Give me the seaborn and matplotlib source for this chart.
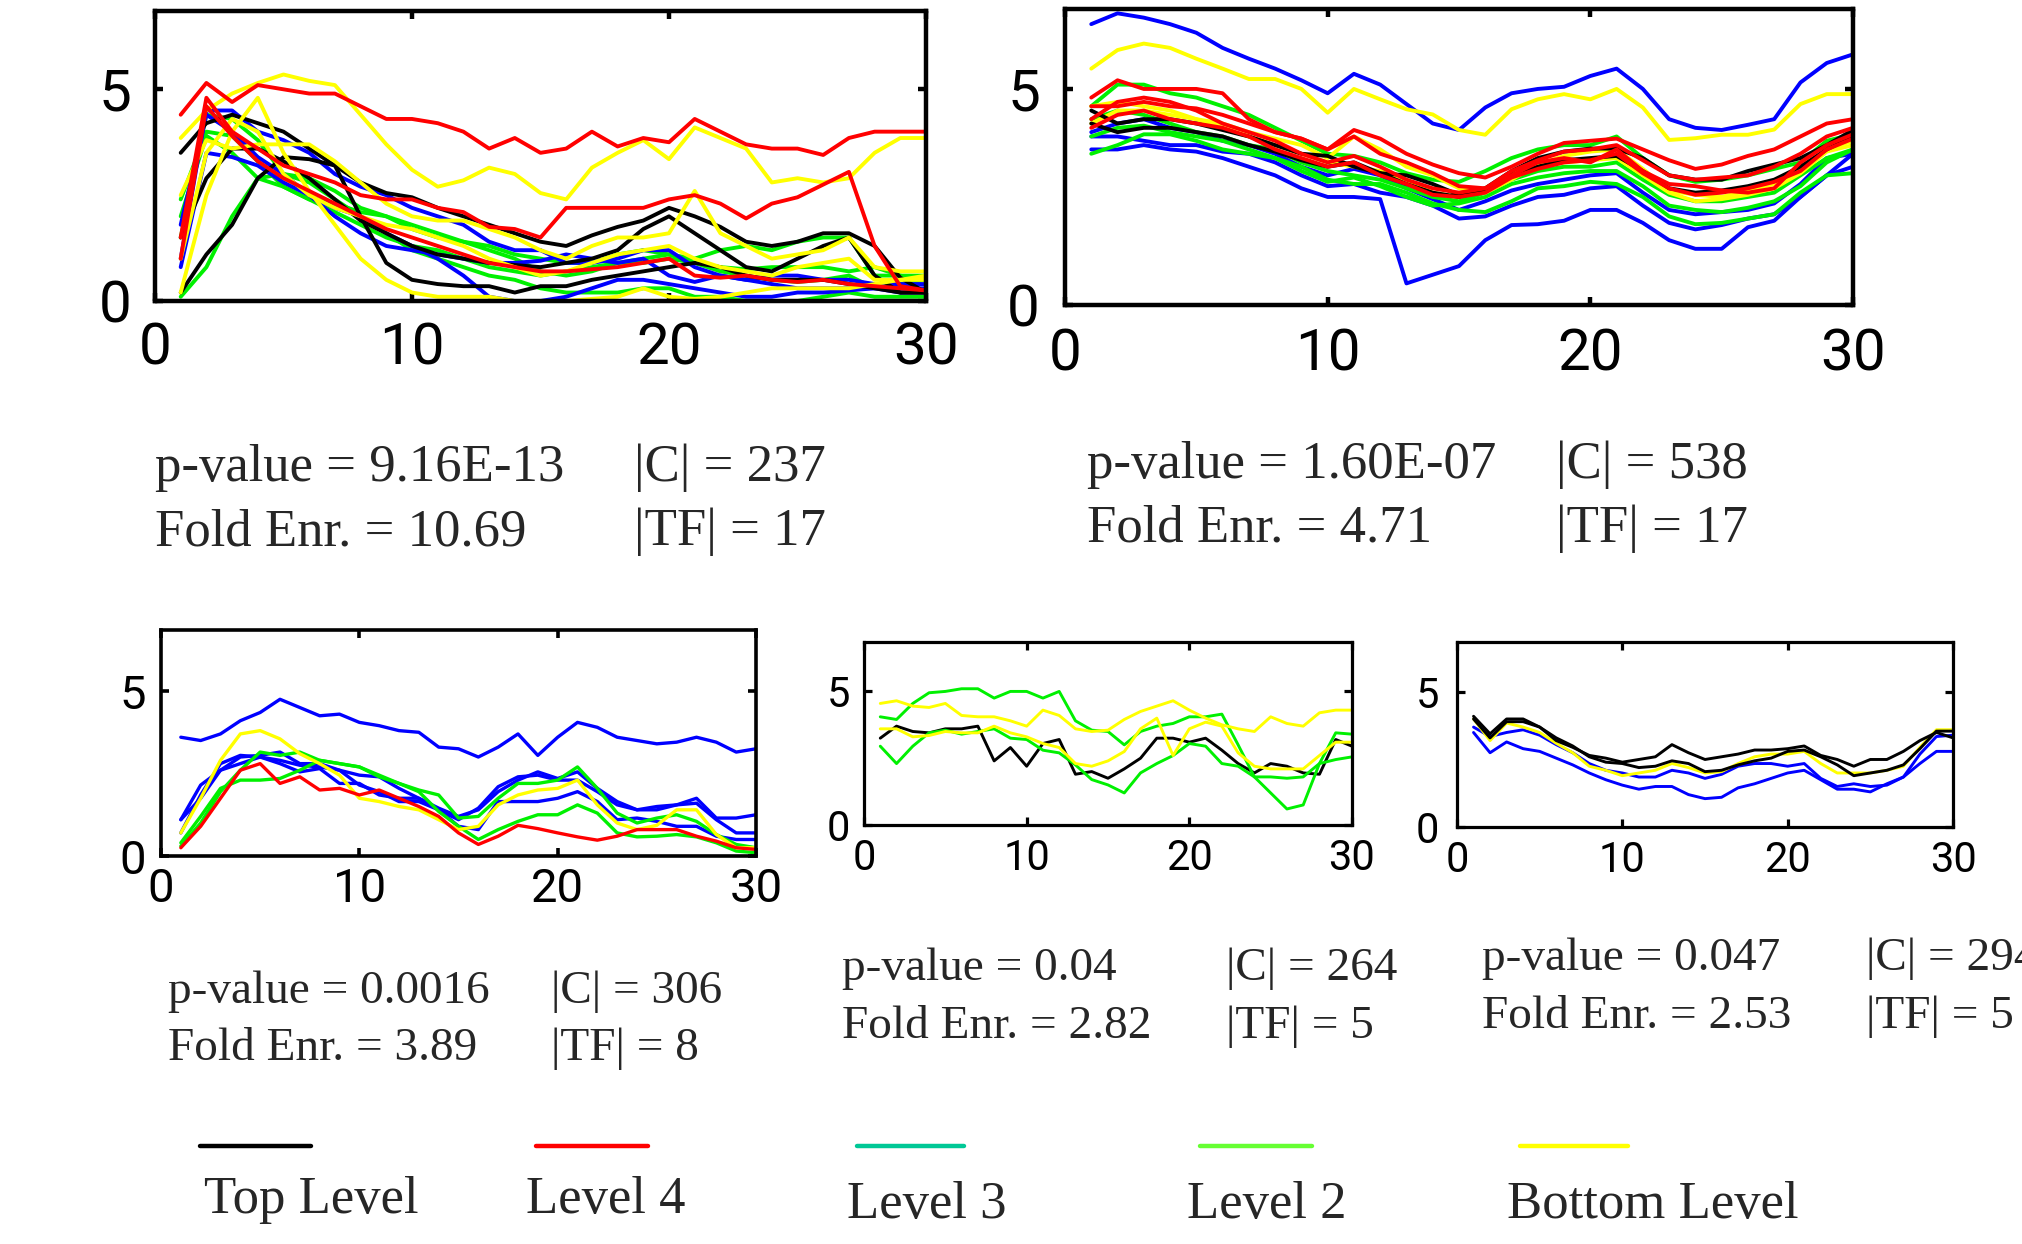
import matplotlib
matplotlib.use("Agg")
import matplotlib.pyplot as plt
import seaborn as sns
import pandas as pd
from matplotlib import font_manager
from matplotlib.lines import Line2D

# ---------------- data ----------------
T = list(range(1, 31))

# Panel 1 (p-value 9.16E-13)
p1_top_a = [3.5,4.2,4.4,4.2,4.0,3.6,3.2,2.8,2.55,2.45,2.2,2.0,1.8,1.6,1.4,1.3,1.55,1.75,1.9,2.2,2.0,1.75,1.4,1.3,1.4,1.6,1.6,1.3,0.55,0.2]
p1_top_b = [0.2,1.1,1.8,2.9,3.4,3.35,3.2,2.0,0.9,0.5,0.4,0.35,0.35,0.2,0.35,0.35,0.5,0.6,0.7,0.8,0.9,0.8,0.6,0.5,0.5,0.5,0.4,0.3,0.2,0.2]
p1_top_c = [1.5,2.9,3.6,3.6,3.3,2.9,2.4,1.9,1.6,1.3,1.1,1.0,0.9,0.85,0.8,0.9,1.0,1.2,1.7,2.0,1.6,1.2,0.8,0.7,1.0,1.3,1.5,0.6,0.2,0.2]
p1_l4_a = [4.4,5.15,4.7,5.1,5.0,4.9,4.9,4.6,4.3,4.3,4.2,4.0,3.6,3.85,3.5,3.6,4.0,3.65,3.85,3.75,4.3,4.0,3.7,3.6,3.6,3.45,3.85,4.0,4.0,4.0]
p1_l4_b = [1.5,4.8,4.0,3.6,3.2,3.0,2.8,2.5,2.4,2.4,2.2,2.1,1.75,1.7,1.5,2.2,2.2,2.2,2.2,2.4,2.5,2.3,1.95,2.3,2.45,2.75,3.05,1.3,0.35,0.25]
p1_l4_c = [1.0,4.6,3.9,3.3,2.9,2.6,2.3,2.0,1.7,1.5,1.3,1.1,0.9,0.8,0.7,0.7,0.75,0.8,0.9,1.0,0.6,0.55,0.6,0.5,0.45,0.5,0.4,0.35,0.3,0.25]
p1_l3_a = [1.0,4.5,4.5,4.0,3.8,3.5,3.0,2.7,2.5,2.2,2.0,1.8,1.4,1.2,1.2,0.9,0.9,1.0,1.2,1.2,0.8,0.6,0.5,0.4,0.3,0.3,0.3,0.3,0.2,0.2]
p1_l3_b = [0.8,3.5,3.4,3.2,2.8,2.5,2.2,2.0,1.6,1.3,1.0,0.6,0.1,0.0,0.0,0.1,0.3,0.5,0.5,0.4,0.3,0.2,0.1,0.1,0.2,0.2,0.25,0.3,0.3,0.3]
p1_l3_c = [1.8,4.4,4.0,3.4,3.0,2.5,2.0,1.6,1.3,1.2,1.1,1.0,0.9,0.9,0.95,1.1,1.0,0.9,1.0,0.6,0.45,0.6,0.5,0.6,0.6,0.5,0.5,0.4,0.4,0.4]
p1_l2_a = [1.5,4.4,4.3,3.8,3.0,2.9,2.6,2.2,2.0,1.7,1.5,1.4,1.3,1.1,1.0,0.9,0.9,1.1,1.2,1.1,1.0,1.2,1.3,1.2,1.4,1.5,1.5,0.6,0.6,0.6]
p1_l2_b = [2.0,3.9,3.5,2.9,2.7,2.4,2.1,1.8,1.5,1.3,1.2,1.0,0.8,0.7,0.6,0.7,0.8,0.9,1.0,1.1,0.9,0.7,0.6,0.5,0.45,0.5,0.6,0.3,0.4,0.5]
p1_l2_c = [0.1,0.8,2.0,2.9,3.0,2.8,2.4,2.0,1.6,1.2,1.0,0.8,0.6,0.5,0.3,0.2,0.2,0.2,0.3,0.3,0.1,0.1,0.0,0.0,0.0,0.1,0.2,0.1,0.1,0.1]
p1_l2_d = [2.4,4.0,3.9,3.3,2.7,2.4,2.3,2.1,2.0,1.8,1.6,1.4,1.2,1.0,0.7,0.6,0.7,0.9,0.9,1.0,0.9,0.8,0.75,0.8,0.8,0.8,0.7,0.8,0.6,0.5]
p1_bot_a = [3.85,4.5,4.9,5.15,5.35,5.2,5.1,4.4,3.7,3.1,2.7,2.85,3.15,3.0,2.55,2.4,3.15,3.5,3.8,3.35,4.1,3.85,3.6,2.8,2.9,2.8,2.9,3.5,3.85,3.85]
p1_bot_b = [0.2,2.5,4.0,4.8,3.5,2.6,1.8,1.0,0.5,0.2,0.1,0.1,0.1,0.0,0.0,0.0,0.05,0.1,0.3,0.1,0.05,0.1,0.2,0.3,0.3,0.3,0.3,0.4,0.5,0.6]
p1_bot_c = [2.5,3.8,3.6,3.7,3.7,3.7,3.3,2.8,2.3,2.0,1.9,1.9,1.7,1.5,1.2,1.0,1.3,1.5,1.5,1.6,2.6,1.6,1.3,1.0,1.1,1.2,1.5,0.8,0.7,0.7]
p1_bot_d = [1.0,3.5,4.3,4.0,3.0,2.5,2.2,2.0,1.8,1.7,1.5,1.3,1.0,0.8,0.6,0.7,0.9,1.1,1.2,1.3,1.0,0.8,0.7,0.6,0.8,0.9,1.0,0.5,0.5,0.5]

# Panel 2 (p-value 1.60E-07)
p2_l3_a = [6.5,6.75,6.65,6.5,6.3,5.95,5.7,5.47,5.2,4.9,5.35,5.1,4.65,4.2,4.05,4.57,4.9,5.0,5.05,5.3,5.47,5.0,4.3,4.1,4.05,4.17,4.3,5.15,5.6,5.8]
p2_bot_a = [5.47,5.9,6.05,5.95,5.7,5.47,5.23,5.23,5.0,4.45,5.0,4.76,4.53,4.41,4.05,3.94,4.53,4.76,4.88,4.76,5.0,4.57,3.82,3.86,3.94,3.94,4.06,4.65,4.88,4.88]
p2_l3_b = [3.6,3.6,3.7,3.6,3.55,3.4,3.2,3.0,2.7,2.5,2.5,2.45,0.5,0.7,0.9,1.5,1.85,1.87,1.95,2.2,2.2,1.9,1.5,1.3,1.3,1.8,1.95,2.5,3.0,3.5]
p2_l3_c = [3.9,3.9,3.8,3.7,3.7,3.55,3.5,3.3,3.0,2.75,2.8,2.6,2.5,2.3,2.0,2.05,2.3,2.5,2.55,2.7,2.75,2.3,1.9,1.75,1.85,2.0,2.1,2.5,3.0,3.2]
p2_l3_d = [4.0,4.2,4.3,4.1,4.0,3.8,3.7,3.5,3.2,3.0,3.15,3.0,2.7,2.45,2.2,2.4,2.65,2.8,2.9,3.0,3.05,2.6,2.2,2.1,2.15,2.2,2.35,2.8,3.4,3.5]
p2_top_a = [4.5,4.2,4.3,4.3,4.2,4.05,3.9,3.7,3.5,3.45,3.2,3.05,3.0,2.8,2.55,2.7,3.1,3.4,3.55,3.62,3.62,3.4,3.0,2.9,2.9,3.1,3.25,3.4,3.7,4.05]
p2_top_b = [4.2,4.0,4.1,4.1,4.0,3.9,3.7,3.55,3.35,3.2,3.3,3.05,2.8,2.6,2.5,2.65,3.0,3.2,3.35,3.4,3.45,3.1,2.7,2.6,2.65,2.75,2.9,3.2,3.6,3.9]
p2_l4_a = [4.8,5.2,5.0,5.0,5.0,4.9,4.3,4.0,3.85,3.6,4.05,3.85,3.5,3.25,3.05,2.95,3.2,3.5,3.75,3.8,3.85,3.6,3.35,3.15,3.25,3.45,3.6,3.9,4.2,4.3]
p2_l4_b = [4.6,4.6,4.7,4.6,4.55,4.4,4.2,4.0,3.85,3.6,3.9,3.5,3.3,3.05,2.75,2.7,3.0,3.3,3.4,3.3,3.6,3.1,2.8,2.75,2.65,2.6,2.7,3.3,3.7,3.95]
p2_l4_c = [4.3,4.7,4.8,4.7,4.5,4.2,4.0,3.8,3.5,3.3,3.45,3.2,2.9,2.7,2.6,2.7,3.1,3.35,3.55,3.6,3.7,3.35,3.0,2.9,2.95,3.0,3.2,3.5,3.9,4.1]
p2_l4_d = [4.1,4.4,4.5,4.3,4.2,4.1,3.9,3.6,3.4,3.2,3.3,3.0,2.8,2.55,2.5,2.6,2.95,3.15,3.3,3.35,3.5,3.05,2.7,2.55,2.6,2.7,2.85,3.1,3.6,3.85]
p2_l2_a = [4.6,5.1,5.1,4.9,4.8,4.6,4.4,4.1,3.8,3.5,3.45,3.3,3.05,2.9,2.85,3.1,3.4,3.6,3.7,3.7,3.9,3.4,3.0,2.85,2.9,3.0,3.15,3.3,3.8,3.95]
p2_l2_b = [3.5,3.7,3.95,3.95,3.8,3.6,3.5,3.4,3.2,2.9,2.8,2.8,2.6,2.35,2.2,2.15,2.4,2.7,2.75,2.85,2.8,2.5,2.05,1.87,1.9,2.0,2.1,2.6,3.0,3.05]
p2_l2_c = [4.3,4.5,4.4,4.2,4.0,3.9,3.7,3.6,3.3,3.1,3.0,2.9,2.7,2.5,2.4,2.6,2.9,3.1,3.2,3.2,3.3,2.9,2.55,2.4,2.4,2.5,2.6,3.0,3.4,3.6]
p2_l2_d = [3.9,4.1,4.15,4.0,3.9,3.8,3.6,3.4,3.1,2.85,2.95,2.75,2.5,2.3,2.35,2.5,2.8,2.95,3.05,3.1,3.1,2.75,2.3,2.2,2.15,2.25,2.4,2.75,3.3,3.6]
p2_bot_b = [4.2,4.5,4.5,4.4,4.3,4.2,4.0,3.85,3.7,3.4,3.9,3.6,3.2,3.0,2.7,2.6,2.9,3.25,3.45,3.55,3.6,3.15,2.65,2.55,2.5,2.65,2.8,3.1,3.6,3.8]
p2_bot_c = [4.6,4.7,4.6,4.5,4.3,4.1,3.9,3.7,3.5,3.3,3.2,3.1,2.9,2.6,2.5,2.7,3.05,3.2,3.3,3.35,3.4,3.0,2.6,2.4,2.45,2.55,2.7,3.05,3.55,3.7]

# Panel 3 (p-value 0.0016)
p3_l3_a = [3.6,3.5,3.7,4.1,4.35,4.75,4.5,4.25,4.3,4.05,3.95,3.8,3.75,3.3,3.25,3.0,3.3,3.7,3.05,3.6,4.05,3.9,3.6,3.5,3.4,3.45,3.6,3.45,3.15,3.25]
p3_l3_b = [1.1,1.75,2.6,3.0,3.05,3.15,2.8,2.8,2.6,2.45,2.4,2.05,1.75,1.45,1.2,1.4,1.95,2.3,2.55,2.35,2.55,2.05,1.65,1.4,1.5,1.55,1.75,1.15,1.15,1.25]
p3_l3_c = [0.7,1.85,2.8,3.05,3.0,2.9,2.75,2.7,2.6,2.15,1.95,1.65,1.65,1.4,0.9,0.8,1.65,1.65,1.65,1.75,1.95,1.65,1.1,1.15,1.05,0.9,0.9,0.6,0.5,0.5]
p3_l3_d = [1.1,2.15,2.6,2.8,3.0,2.8,2.55,2.65,2.2,2.2,1.85,1.75,1.75,1.4,1.1,1.45,2.1,2.4,2.45,2.3,2.3,1.95,1.55,1.4,1.4,1.55,1.6,1.1,0.7,0.7]
p3_l2_a = [0.3,1.0,1.95,2.6,3.15,3.05,3.15,2.9,2.8,2.7,2.4,2.2,2.0,1.85,1.15,1.2,1.75,2.2,2.2,2.3,2.7,2.05,1.3,1.0,1.15,1.25,1.05,0.65,0.35,0.25]
p3_l2_b = [0.4,1.2,2.05,2.3,2.3,2.35,2.6,2.9,2.8,2.7,2.45,2.2,1.95,1.35,0.9,0.5,0.8,1.05,1.25,1.25,1.55,1.3,0.7,0.58,0.6,0.65,0.58,0.4,0.15,0.1]
p3_bot_a = [0.7,1.75,2.9,3.7,3.8,3.55,3.1,2.8,2.45,1.75,1.65,1.5,1.4,1.1,0.8,0.9,1.55,1.85,2.0,2.05,2.3,1.55,1.0,0.8,0.93,1.4,1.4,0.65,0.25,0.25]
p3_l4_a = [0.25,0.9,1.75,2.6,2.8,2.2,2.4,2.0,2.05,1.85,2.0,1.75,1.5,1.2,0.7,0.35,0.6,0.93,0.83,0.7,0.58,0.48,0.6,0.8,0.8,0.8,0.6,0.45,0.25,0.2]

# Panel 4 (p-value 0.04)
p4_top_a = [3.25,3.7,3.5,3.45,3.6,3.6,3.7,2.4,2.9,2.2,3.05,3.2,1.9,2.0,1.75,2.1,2.5,3.25,3.25,3.1,3.25,2.8,2.3,1.95,2.3,2.2,1.95,1.9,3.2,2.95]
p4_bot_a = [4.55,4.65,4.45,4.4,4.55,4.1,4.05,4.05,3.9,3.7,4.3,4.1,3.6,3.5,3.55,3.95,4.25,4.45,4.65,4.3,4.0,3.75,3.6,3.5,4.05,3.8,3.7,4.2,4.3,4.3]
p4_bot_b = [3.6,3.6,3.3,3.35,3.5,3.45,3.45,3.7,3.45,3.3,3.05,2.9,2.3,2.2,2.4,2.75,3.6,4.0,2.6,3.6,3.85,3.7,2.7,2.2,2.1,2.1,2.1,2.6,3.1,3.1]
p4_l2_a = [4.05,3.95,4.55,4.95,5.0,5.1,5.1,4.75,5.0,5.0,4.75,5.0,3.9,3.55,3.5,3.0,3.5,3.7,3.8,4.05,4.05,4.15,3.0,1.8,1.2,0.6,0.75,2.3,3.45,3.4]
p4_l2_b = [2.95,2.3,2.95,3.45,3.55,3.4,3.5,3.6,3.25,3.2,2.8,2.7,2.25,1.7,1.5,1.2,1.95,2.3,2.6,3.05,2.95,2.3,2.2,1.8,1.8,1.75,1.8,2.3,2.45,2.55]

# Panel 5 (p-value 0.047)
p5_top_a = [4.1,3.45,4.0,4.0,3.7,3.2,2.95,2.65,2.55,2.4,2.5,2.6,3.05,2.75,2.5,2.6,2.7,2.85,2.85,2.9,3.0,2.65,2.5,2.25,2.5,2.5,2.8,3.2,3.5,3.3]
p5_top_b = [4.0,3.3,3.9,3.9,3.7,3.3,3.0,2.6,2.4,2.35,2.2,2.25,2.45,2.35,2.05,2.1,2.3,2.45,2.55,2.8,2.85,2.6,2.3,1.9,2.0,2.1,2.3,2.9,3.55,3.55]
p5_bot_a = [4.0,3.2,3.85,3.7,3.5,3.1,2.75,2.25,2.1,1.9,2.0,2.1,2.35,2.2,2.0,2.05,2.35,2.6,2.7,2.7,2.8,2.35,2.0,2.0,2.0,2.1,2.25,2.95,3.6,3.6]
p5_l3_a = [3.7,3.35,3.5,3.6,3.4,3.05,2.75,2.35,2.1,2.0,1.85,1.85,2.1,2.0,1.8,1.95,2.25,2.35,2.35,2.25,2.35,1.8,1.5,1.6,1.5,1.55,1.85,2.7,3.35,3.4]
p5_l3_b = [3.5,2.75,3.15,2.9,2.8,2.55,2.3,2.0,1.75,1.55,1.4,1.5,1.5,1.2,1.05,1.1,1.45,1.6,1.8,2.0,2.1,1.75,1.4,1.4,1.3,1.6,1.85,2.35,2.8,2.8]

stats_p = ["p-value = 9.16E-13", "p-value = 1.60E-07", "p-value = 0.0016", "p-value = 0.04", "p-value = 0.047"]
stats_fold = ["Fold Enr. = 10.69", "Fold Enr. = 4.71", "Fold Enr. = 3.89", "Fold Enr. = 2.82", "Fold Enr. = 2.53"]
stats_c = ["|C| = 237", "|C| = 538", "|C| = 306", "|C| = 264", "|C| = 294"]
stats_tf = ["|TF| = 17", "|TF| = 17", "|TF| = 8", "|TF| = 5", "|TF| = 5"]

legend_labels = ["Top Level", "Level 4", "Level 3", "Level 2", "Bottom Level"]
legend_colors = ["#000000", "#ff0000", "#00c896", "#66ff33", "#ffff00"]
x_ticks = [0, 10, 20, 30]
y_ticks = [0, 5]

LINE_COL = {"top": "#000000", "l4": "#ff0000", "l3": "#0000ff", "l2": "#00f000", "bot": "#ffff00"}

panels = [
    [("l2", p1_l2_a), ("l2", p1_l2_b), ("l2", p1_l2_c), ("l2", p1_l2_d),
     ("l3", p1_l3_a), ("l3", p1_l3_b), ("l3", p1_l3_c),
     ("top", p1_top_a), ("top", p1_top_b), ("top", p1_top_c),
     ("bot", p1_bot_a), ("bot", p1_bot_b), ("bot", p1_bot_c), ("bot", p1_bot_d),
     ("l4", p1_l4_a), ("l4", p1_l4_b), ("l4", p1_l4_c)],
    [("l3", p2_l3_a), ("bot", p2_bot_a), ("l3", p2_l3_b), ("l3", p2_l3_c), ("l3", p2_l3_d),
     ("l2", p2_l2_a), ("l2", p2_l2_b), ("l2", p2_l2_c), ("l2", p2_l2_d),
     ("bot", p2_bot_b), ("bot", p2_bot_c),
     ("top", p2_top_a), ("top", p2_top_b),
     ("l4", p2_l4_a), ("l4", p2_l4_b), ("l4", p2_l4_c), ("l4", p2_l4_d)],
    [("l3", p3_l3_a), ("l3", p3_l3_b), ("l3", p3_l3_c), ("l3", p3_l3_d),
     ("l2", p3_l2_a), ("l2", p3_l2_b), ("bot", p3_bot_a), ("l4", p3_l4_a)],
    [("top", p4_top_a), ("l2", p4_l2_a), ("l2", p4_l2_b), ("bot", p4_bot_a), ("bot", p4_bot_b)],
    [("l3", p5_l3_a), ("l3", p5_l3_b), ("bot", p5_bot_a), ("top", p5_top_a), ("top", p5_top_b)],
]

# ---------------- style ----------------
sns.set_theme(style="white")
plt.rcParams["font.family"] = ["Liberation Serif", "DejaVu Serif"]

avail = {f.name for f in font_manager.fontManager.ttflist}
if "Liberation Sans Narrow" in avail:
    TICK_FAM, TICK_SCALE = ["Liberation Sans Narrow"], 1.1
elif "Roboto" in avail:
    TICK_FAM, TICK_SCALE = ["Roboto", "DejaVu Sans"], 1.0
else:
    TICK_FAM, TICK_SCALE = ["DejaVu Sans"], 0.92

W, H = 2022, 1244
fig = plt.figure(figsize=(W / 100, H / 100), dpi=100)
fig.patch.set_facecolor("white")

def frac_rect(l, t, r, b):
    return [l / W, 1 - b / H, (r - l) / W, (b - t) / H]

# (rect in px, line width, tick font size, spine width, x pad, y pad)
geom = [
    (frac_rect(155, 11, 926, 301), 2.8, 42, 3.2, 15, 17),
    (frac_rect(1065, 9, 1853, 305), 2.8, 42, 3.2, 16, 18),
    (frac_rect(161, 630, 756, 856), 2.4, 34, 2.6, 8, 11),
    (frac_rect(864, 642, 1352, 825), 2.1, 30, 2.3, 9, 10),
    (frac_rect(1457, 642, 1953, 827), 2.1, 30, 2.3, 9, 13),
]

for lines, (rect, lw, tfs, sw, xpad, ypad) in zip(panels, geom):
    ax = fig.add_axes(rect)
    rows, pal = [], {}
    for i, (lvl, vals) in enumerate(lines):
        key = f"s{i:02d}"
        pal[key] = LINE_COL[lvl]
        rows += [(t, v, key) for t, v in zip(T, vals)]
    df = pd.DataFrame(rows, columns=["t", "v", "line"])
    sns.lineplot(data=df, x="t", y="v", hue="line", palette=pal, legend=False,
                 ax=ax, linewidth=lw, estimator=None, sort=False)
    ax.set_xlim(0, 30)
    ax.set_ylim(0, 6.85)
    ax.set_xticks(x_ticks)
    ax.set_yticks(y_ticks)
    ax.set_xticklabels([str(v) for v in x_ticks], family=TICK_FAM, fontsize=tfs * TICK_SCALE)
    ax.set_yticklabels([str(v) for v in y_ticks], family=TICK_FAM, fontsize=tfs * TICK_SCALE)
    ax.set_xlabel("")
    ax.set_ylabel("")
    ax.tick_params(axis="both", direction="in", length=6, width=sw, colors="black",
                   top=True, right=True, bottom=True, left=True)
    ax.tick_params(axis="x", pad=xpad)
    ax.tick_params(axis="y", pad=ypad)
    for s in ax.spines.values():
        s.set_visible(True)
        s.set_color("black")
        s.set_linewidth(sw)
    ax.set_facecolor("white")
    ax.grid(False)

# ---------------- annotation text ----------------
# (x_p, y_line1, x_c, y_line2, font size) in pixels
txt_pos = [
    (155, 481, 634, 545, 38),
    (1087, 478, 1556, 542, 38),
    (168, 1003, 551, 1060, 34),
    (842, 980, 1226, 1038, 34),
    (1482, 970, 1866, 1028, 34),
]
for (xp, y1, xc, y2, fs), sp, sf, sc, stf in zip(txt_pos, stats_p, stats_fold, stats_c, stats_tf):
    fig.text(xp / W, 1 - y1 / H, sp, fontsize=fs, ha="left", va="baseline")
    fig.text(xp / W, 1 - y2 / H, sf, fontsize=fs, ha="left", va="baseline")
    fig.text(xc / W, 1 - y1 / H, sc, fontsize=fs, ha="left", va="baseline")
    fig.text(xc / W, 1 - y2 / H, stf, fontsize=fs, ha="left", va="baseline")

# ---------------- legend ----------------
seg_x = [(200, 311), (536, 648), (857, 964), (1200, 1312), (1520, 1628)]
lab_xy = [(204, 1213), (526, 1213), (847, 1218), (1187, 1218), (1507, 1218)]
for (x0, x1), (lx, ly), lab, col in zip(seg_x, lab_xy, legend_labels, legend_colors):
    fig.add_artist(Line2D([x0 / W, x1 / W], [1 - 1146 / H, 1 - 1146 / H],
                          transform=fig.transFigure, color=col, linewidth=3.2))
    fig.text(lx / W, 1 - ly / H, lab, fontsize=38, ha="left", va="baseline")

fig.savefig("out.png", dpi=100, facecolor="white")
